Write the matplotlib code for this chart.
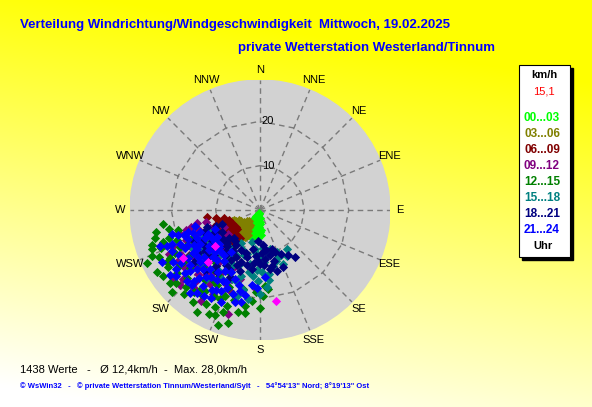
import numpy as np
import matplotlib
matplotlib.use('Agg')
import matplotlib.pyplot as plt
from matplotlib.patches import Circle, Rectangle

plt.rcParams['font.family'] = ['Liberation Sans', 'DejaVu Sans']

W, H = 592, 407
R = 29.3  # outer radius of the rose in km/h

# wind samples per time slot: (direction in degrees, speed in km/h)
p00_03 = [(200, 0.8), (195, 1.5), (210, 1.6), (185, 2.0), (205, 2.4), (215, 2.8), (178, 2.6),
          (192, 3.0), (200, 3.3), (212, 3.6), (182, 3.8), (190, 4.2), (205, 4.3), (218, 4.2),
          (176, 4.6), (197, 4.8), (210, 5.0), (185, 5.2), (200, 5.6), (192, 6.0), (178, 5.6),
          (215, 3.2), (188, 1.0), (203, 1.9), (180, 3.2), (195, 4.0), (208, 4.7), (183, 5.5),
          (196, 5.4), (203, 6.2), (188, 6.3), (214, 5.3),
          (198, 2.2), (207, 3.0), (186, 3.5), (201, 4.5), (213, 4.8), (180, 4.9), (193, 5.2),
          (206, 5.8), (198, 6.5), (184, 6.4), (209, 6.3), (188, 2.7), (217, 3.8), (194, 3.7),
          (202, 1.2), (179, 1.8), (210, 2.2), (190, 5.8), (200, 4.0), (186, 4.6)]
p03_06 = [(225, 3.5), (215, 4.0), (232, 4.5), (240, 5.0), (220, 5.2), (210, 5.5), (228, 5.8),
          (245, 6.0), (235, 6.5), (218, 6.5), (205, 6.3), (248, 6.8), (228, 7.2), (238, 7.5),
          (214, 7.6), (222, 8.0), (232, 5.0), (212, 4.6), (242, 6.0), (220, 7.0), (230, 6.2),
          (226, 4.2), (236, 5.5), (244, 5.3), (250, 6.3), (217, 5.7), (224, 6.8), (233, 7.8),
          (242, 7.0), (210, 6.9), (227, 8.5), (218, 7.4), (236, 6.0), (247, 7.6), (230, 3.8),
          (220, 4.6)]
p06_09 = [(235, 6.5), (245, 7.0), (225, 7.5), (250, 8.0), (240, 8.5), (230, 9.0), (255, 9.5),
          (245, 10.0), (235, 10.5), (220, 8.5), (215, 7.8), (228, 10.8), (250, 11.0), (240, 7.6),
          (232, 8.2), (238, 9.6), (248, 9.0), (222, 9.8), (260, 10.0), (243, 11.5), (230, 6.8),
          (218, 9.2), (252, 7.4), (263, 12.1), (235, 12.0), (225, 11.5),
          (226, 8.0), (234, 7.2), (242, 9.2), (236, 11.2), (229, 9.5), (252, 10.3), (246, 8.2),
          (221, 10.5), (257, 8.4), (238, 8.0), (232, 10.0), (248, 12.0), (244, 10.5), (227, 12.5),
          (216, 10.0)]
p09_12 = [(256, 16.0), (244, 22.7), (228, 23.3), (209, 21.7), (197, 24.5), (184, 17.6), (196, 16.2),
          (245, 9.0), (250, 12.0), (238, 12.5), (230, 14.0), (225, 16.5), (240, 15.0), (248, 18.0),
          (235, 18.5), (220, 19.0), (215, 13.5), (232, 11.0), (242, 13.0), (252, 14.5), (226, 12.0),
          (236, 20.5), (212, 17.0), (205, 14.5), (240, 17.5), (230, 19.8), (222, 21.5), (246, 20.0),
          (254, 19.0), (218, 15.0), (234, 16.0), (228, 10.5), (200, 19.5), (210, 12.0), (258, 12.5),
          (238, 22.0), (250, 24.0), (232, 25.0),
          (222, 14.0), (231, 15.3), (243, 16.2), (238, 19.0), (226, 18.2), (217, 17.8), (210, 15.5),
          (249, 15.8), (255, 17.2), (233, 21.5), (224, 20.0), (214, 20.2), (206, 18.2), (244, 11.0),
          (237, 14.0), (229, 13.0), (219, 12.5), (236, 10.0), (247, 21.5), (241, 23.5), (227, 24.8),
          (220, 23.0), (203, 17.0), (213, 24.5), (248, 13.5), (258, 14.5), (233, 9.0), (240, 20.5)]
p12_15 = [(258, 23.9), (252, 25.7), (249, 23.9), (245, 28.0), (245, 25.0), (238, 24.4), (236, 26.4),
          (229, 25.2), (224, 24.0), (219, 23.7), (215, 23.1), (206, 26.0), (203, 25.8), (192, 23.4),
          (176, 17.1), (174, 17.8), (202, 18.7), (204, 21.9), (199, 23.0), (192, 18.2), (189, 21.8),
          (231, 26.2), (250, 20.0), (243, 21.5), (237, 19.0), (230, 20.5), (225, 18.0), (218, 20.0),
          (212, 17.5), (208, 15.5), (233, 16.5), (240, 15.0), (247, 17.0), (253, 21.5), (227, 22.5),
          (221, 15.5), (214, 22.0), (210, 19.5), (198, 20.0), (235, 22.8), (241, 24.0), (256, 19.0),
          (226, 13.5), (233, 12.5), (205, 24.0), (196, 21.0), (262, 22.0), (244, 18.5), (228, 16.0),
          (216, 25.5), (250, 26.0), (239, 27.0), (212, 27.0), (200, 27.5), (185, 20.5), (180, 22.0),
          (255, 24.5), (247, 26.5), (242, 23.0), (233, 23.5), (227, 27.0), (222, 25.5), (217, 23.0),
          (210, 24.5), (208, 22.0), (200, 24.5), (196, 26.5), (188, 23.5), (183, 18.5), (178, 19.5),
          (252, 23.0), (258, 21.0), (236, 20.8), (219, 17.0), (245, 19.8), (230, 18.2), (202, 21.0),
          (213, 19.0)]
p15_18 = [(146, 10.7), (150, 12.0), (157, 13.2), (158, 10.3), (176, 8.5), (176, 11.8), (190, 12.4),
          (186, 15.0), (175, 17.4), (188, 20.2), (203, 9.7), (197, 10.3), (194, 7.5), (244, 14.1),
          (238, 13.0), (230, 12.0), (220, 11.0), (212, 13.5), (205, 15.5), (198, 17.0), (215, 16.5),
          (225, 14.5), (235, 16.0), (208, 11.5), (200, 13.0), (183, 13.5), (170, 10.0), (165, 9.0),
          (180, 19.0), (192, 18.5), (228, 18.0), (218, 19.5), (240, 17.5), (247, 12.5), (210, 8.5),
          (185, 9.8), (162, 12.0), (172, 14.5),
          (160, 11.5), (167, 13.0), (178, 14.0), (182, 16.0), (190, 14.2), (196, 15.5), (202, 16.8),
          (209, 17.8), (214, 12.0), (222, 13.2), (229, 15.0), (236, 13.8), (242, 12.0), (180, 10.5),
          (187, 8.8), (200, 10.8), (206, 13.8), (173, 16.0), (155, 11.2), (195, 20.0)]
p18_21 = [(163, 9.3), (143, 13.2), (170, 13.5), (164, 14.3), (184, 7.1), (178, 9.8), (180, 12.2),
          (160, 10.0), (165, 11.8), (172, 9.0), (176, 12.5), (168, 12.8), (185, 10.5), (190, 9.0),
          (195, 11.0), (200, 12.5), (205, 10.0), (210, 13.0), (215, 9.5), (220, 12.0), (225, 10.5),
          (230, 13.5), (235, 11.5), (240, 9.8), (245, 11.0), (250, 9.0), (228, 15.5), (218, 16.0),
          (208, 15.0), (198, 14.5), (235, 17.0), (242, 14.5), (223, 8.5), (213, 11.0), (188, 13.5),
          (252, 12.5), (232, 19.0), (222, 18.5), (245, 16.5),
          (155, 11.0), (167, 10.5), (174, 11.0), (182, 11.5), (187, 12.0), (193, 12.8), (198, 10.2),
          (203, 13.5), (207, 11.8), (212, 14.5), (217, 12.8), (222, 11.0), (227, 12.2), (232, 10.5),
          (237, 13.0), (243, 12.2), (248, 13.5), (226, 14.5), (233, 15.5), (215, 17.0), (204, 16.5),
          (238, 15.0), (250, 10.5), (219, 9.0), (228, 9.5), (175, 8.0), (148, 12.0), (158, 13.8)]
p21_24 = [(253, 19.3), (249, 21.2), (239, 22.8), (232, 24.1), (253, 16.9), (222, 22.8), (217, 21.5),
          (209, 20.6), (192, 21.1), (195, 21.5), (176, 15.2), (206, 20.3), (245, 13.0), (240, 15.5),
          (235, 14.0), (230, 16.5), (225, 15.0), (220, 17.5), (215, 14.0), (210, 16.0), (205, 18.0),
          (248, 17.5), (243, 19.0), (237, 18.0), (232, 20.0), (227, 19.5), (222, 20.5), (218, 13.0),
          (228, 12.5), (238, 11.5), (250, 14.5), (245, 22.0), (236, 21.5), (226, 23.0), (212, 18.5),
          (200, 16.5), (256, 15.0), (242, 16.8), (233, 17.5), (224, 13.0), (214, 11.5), (240, 12.5),
          (230, 22.0), (250, 24.0), (247, 11.0), (220, 24.5), (203, 22.5), (186, 17.0), (194, 18.8),
          (252, 18.0), (247, 19.5), (241, 21.0), (235, 23.0), (229, 21.0), (224, 18.5), (219, 19.5),
          (214, 16.8), (208, 18.0), (203, 19.0), (198, 20.0), (190, 19.5), (246, 15.5), (238, 16.8),
          (232, 14.5), (226, 16.8), (221, 14.8), (216, 18.8), (211, 21.0), (205, 15.5), (243, 14.0),
          (236, 19.5), (229, 18.0), (223, 21.8), (217, 23.5), (209, 22.8), (249, 22.5), (242, 25.0),
          (234, 25.0), (255, 20.5), (251, 16.0), (244, 18.0), (230, 12.0), (235, 12.5), (227, 14.0),
          (213, 23.0), (196, 17.5), (182, 17.5)]
p_extra = [(170, 20.8), (238, 20.4), (225, 16.5), (232, 13.0)]

slots = ['00...03', '03...06', '06...09', '09...12', '12...15', '15...18', '18...21', '21...24']
slot_data = [p00_03, p03_06, p06_09, p09_12, p12_15, p15_18, p18_21, p21_24]
slot_colors = ['#00ff00', '#808000', '#800000', '#800080', '#008000', '#008080', '#000080', '#0000ff']

directions = ['N', 'NNE', 'NE', 'ENE', 'E', 'ESE', 'SE', 'SSE',
              'S', 'SSW', 'SW', 'WSW', 'W', 'WNW', 'NW', 'NNW']
rings = [10, 20]

n_values = 1438
mean_speed = '12,4'
max_speed = '28,0'
current = '15,1'


def px(x, y):
    return x / W, 1 - y / H


fig = plt.figure(figsize=(W / 100, H / 100), dpi=100)

# yellow background, fading to white towards the bottom left
bg = fig.add_axes([0, 0, 1, 1])
yy, xx = np.mgrid[0:1:200j, 0:1:300j]
blue = np.clip(yy + 0.25 * (1 - xx) - 0.2, 0, 1)
img = np.dstack([np.ones_like(blue), np.ones_like(blue), blue])
bg.imshow(img, extent=[0, 1, 0, 1], aspect='auto', origin='upper')
bg.axis('off')

# wind rose
l, b = px(130, 340)
ax = fig.add_axes([l, b, 260 / W, 260 / H])
ax.set_xlim(-R, R)
ax.set_ylim(-R, R)
ax.axis('off')
ax.add_patch(Circle((0, 0), R, color='#d2d2d2', zorder=0))

grid_kw = dict(color='#7a7a7a', lw=1, ls=(0, (4, 3)), zorder=1)
ang = np.deg2rad(np.arange(0, 360, 22.5))
for a in ang:
    ax.plot([0, R * np.sin(a)], [0, R * np.cos(a)], **grid_kw)
ang_c = np.append(ang, ang[0])
for r in rings:
    ax.plot(r * np.sin(ang_c), r * np.cos(ang_c), **grid_kw)
    ax.text(0.4, r, str(r), fontsize=8, ha='left', va='center', zorder=5)

for a, lab in zip(ang, directions):
    ax.text(31.6 * np.sin(a), 31.6 * np.cos(a), lab, fontsize=8,
            ha='center', va='center', clip_on=False)

for pts, col in zip(slot_data + [p_extra], slot_colors + ['#ff00ff']):
    d = np.deg2rad([p[0] for p in pts])
    s = np.array([p[1] for p in pts])
    ax.scatter(s * np.sin(d), s * np.cos(d), marker='D', s=22, color=col,
               linewidths=0, zorder=3)

# titles
fig.text(*px(20, 25), 'Verteilung Windrichtung/Windgeschwindigkeit  Mittwoch, 19.02.2025',
         color='#0000ff', fontsize=9.5, fontweight='bold', va='center')
fig.text(*px(238, 48), 'private Wetterstation Westerland/Tinnum',
         color='#0000ff', fontsize=9.5, fontweight='bold', va='center')

# footer
fig.text(*px(20, 369), f'{n_values} Werte   -   Ø {mean_speed}km/h  -  Max. {max_speed}km/h',
         fontsize=8, va='center')
fig.text(*px(20, 386), '© WsWin32   -   © private Wetterstation Tinnum/Westerland/Sylt   -   '
         '54°54\'13" Nord; 8°19\'13" Ost', color='#0000ff', fontsize=5.5,
         fontweight='bold', va='center')

# legend box
lg = fig.add_axes([0, 0, 1, 1], facecolor='none')
lg.set_xlim(0, W)
lg.set_ylim(H, 0)
lg.axis('off')
lg.add_patch(Rectangle((522, 68), 51, 192, color='black'))
lg.add_patch(Rectangle((519, 65), 51, 192, facecolor='white', edgecolor='black', lw=0.8))
lg.text(544, 75, 'km/h', fontsize=8, fontweight='bold', ha='center', va='center')
lg.text(555, 92, current, fontsize=8, color='red', ha='right', va='center')
for i, (lab, col) in enumerate(zip(slots, slot_colors)):
    lg.text(542, 118 + i * 16, lab, fontsize=8.5, fontweight='bold', color=col,
            ha='center', va='center')
lg.text(543, 246, 'Uhr', fontsize=8, fontweight='bold', ha='center', va='center')

fig.savefig('out.png', dpi=100)
